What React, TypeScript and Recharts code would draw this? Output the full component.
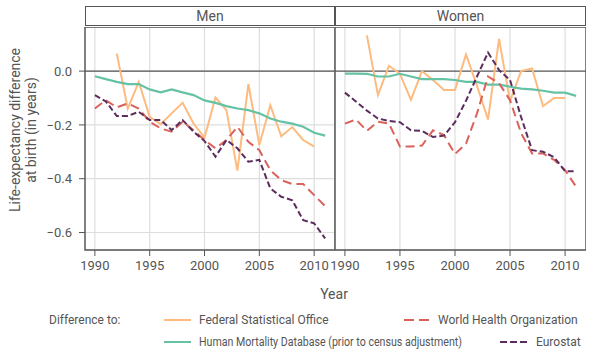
import React from "react";
import {
  LineChart,
  Line,
  XAxis,
  YAxis,
  CartesianGrid,
  ReferenceLine,
  ReferenceArea,
} from "recharts";

const years = [
  1990, 1991, 1992, 1993, 1994, 1995, 1996, 1997, 1998, 1999, 2000,
  2001, 2002, 2003, 2004, 2005, 2006, 2007, 2008, 2009, 2010, 2011,
];

// Men
const menFso = [
  null, null, 0.065, -0.139, -0.04, -0.17, -0.197, -0.157, -0.118, -0.195, -0.247,
  -0.098, -0.145, -0.37, -0.048, -0.275, -0.127, -0.242, -0.208, -0.256, -0.281, null,
];
const menHmd = [
  -0.019, -0.03, -0.04, -0.048, -0.048, -0.068, -0.079, -0.068, -0.079, -0.089, -0.109,
  -0.118, -0.13, -0.139, -0.145, -0.157, -0.176, -0.188, -0.195, -0.207, -0.229, -0.24,
];
const menWho = [
  -0.139, -0.108, -0.135, -0.12, -0.139, -0.188, -0.213, -0.225, -0.188, -0.22, -0.256,
  -0.287, -0.256, -0.207, -0.263, -0.294, -0.368, -0.405, -0.42, -0.42, -0.461, -0.502,
];
const menEurostat = [
  -0.089, -0.113, -0.167, -0.167, -0.151, -0.182, -0.182, -0.219, -0.182, -0.225, -0.26,
  -0.318, -0.256, -0.287, -0.337, -0.33, -0.436, -0.467, -0.48, -0.554, -0.566, -0.622,
];

// Women
const womenFso = [
  null, null, 0.133, -0.089, 0.02, -0.01, -0.107, 0.0, -0.033, -0.07, -0.07,
  0.062, -0.055, -0.18, 0.12, -0.112, 0.0, 0.01, -0.13, -0.1, -0.1, null,
];
const womenHmd = [
  -0.009, -0.009, -0.01, -0.02, -0.02, -0.01, -0.02, -0.03, -0.03, -0.03, -0.033,
  -0.04, -0.04, -0.05, -0.05, -0.058, -0.065, -0.068, -0.073, -0.08, -0.08, -0.092,
];
const womenWho = [
  -0.195, -0.18, -0.222, -0.188, -0.195, -0.28, -0.28, -0.277, -0.22, -0.238, -0.308,
  -0.27, -0.157, -0.02, -0.045, -0.108, -0.23, -0.306, -0.306, -0.33, -0.368, -0.43,
];
const womenEurostat = [
  -0.08, -0.113, -0.147, -0.176, -0.185, -0.19, -0.22, -0.222, -0.245, -0.24, -0.19,
  -0.11, -0.02, 0.069, 0.004, -0.033, -0.17, -0.294, -0.3, -0.32, -0.372, -0.372,
];

const xTicks = [1990, 1995, 2000, 2005, 2010];
const yTicks = [-0.6, -0.4, -0.2, 0];
const xDomain = [1989.1, 2011.9];
const yDomain = [-0.665, 0.164];

const C_FSO = "#fdbb80";
const C_HMD = "#66c2a5";
const C_WHO = "#d9625a";
const C_EUR = "#5b2d5e";
const TXT = "#555555";
const FONT = "Roboto, 'Open Sans', sans-serif";

const buildRows = (fso: any[], hmd: any[], who: any[], eur: any[]) =>
  years.map((year, i) => ({ year, fso: fso[i], hmd: hmd[i], who: who[i], eur: eur[i] }));

const menRows = buildRows(menFso, menHmd, menWho, menEurostat);
const womenRows = buildRows(womenFso, womenHmd, womenWho, womenEurostat);

const fmtY = (v: number) =>
  v === 0 ? "0.0" : (v < 0 ? "\u2212" : "") + Math.abs(v).toFixed(1);

function Panel({
  rows,
  showY,
  width,
  padLeft,
}: {
  rows: any[];
  showY: boolean;
  width: number;
  padLeft: number;
}) {
  return (
    <LineChart
      width={width}
      height={258}
      data={rows}
      margin={{ top: 0, right: 0, bottom: 0, left: padLeft }}
    >
      <CartesianGrid stroke="#dedede" strokeWidth={1.2} />
      <XAxis
        dataKey="year"
        type="number"
        domain={xDomain}
        ticks={xTicks}
        allowDataOverflow
        height={35}
        axisLine={false}
        tickLine={{ stroke: TXT }}
        tickSize={6}
        tickMargin={5}
        tick={{ fill: TXT, fontSize: 13, fontFamily: FONT }}
        interval={0}
      />
      <YAxis
        type="number"
        domain={yDomain}
        ticks={yTicks}
        allowDataOverflow
        width={showY ? 85 : 0}
        axisLine={false}
        tickLine={showY ? { stroke: TXT } : false}
        tick={showY ? { fill: TXT, fontSize: 13, fontFamily: FONT } : false}
        tickSize={6}
        tickMargin={7}
        tickFormatter={fmtY}
        interval={0}
      />
      <ReferenceLine y={0} stroke={TXT} strokeWidth={1.4} />
      <Line dataKey="fso" stroke={C_FSO} strokeWidth={2} dot={false} isAnimationActive={false} />
      <Line dataKey="hmd" stroke={C_HMD} strokeWidth={2.2} dot={false} isAnimationActive={false} />
      <Line
        dataKey="who"
        stroke={C_WHO}
        strokeWidth={2}
        strokeDasharray="9 5"
        dot={false}
        isAnimationActive={false}
      />
      <Line
        dataKey="eur"
        stroke={C_EUR}
        strokeWidth={2}
        strokeDasharray="6 3"
        dot={false}
        isAnimationActive={false}
      />
      <ReferenceArea
        x1={xDomain[0]}
        x2={xDomain[1]}
        y1={yDomain[0]}
        y2={yDomain[1]}
        fill="none"
        fillOpacity={0}
        stroke={TXT}
        strokeWidth={1.4}
      />
    </LineChart>
  );
}

const stripStyle = (left: number, width: number): React.CSSProperties => ({
  position: "absolute",
  left,
  top: 6,
  width: width - 1,
  height: 20,
  border: `1.4px solid ${TXT}`,
  boxSizing: "border-box",
  background: "#fff",
  color: TXT,
  fontFamily: FONT,
  fontSize: 14,
  lineHeight: "18px",
  textAlign: "center",
});

export default function App() {
  return (
    <div
      style={{
        position: "absolute",
        left: 0,
        top: 0,
        width: 590,
        height: 357,
        background: "#fff",
        overflow: "hidden",
      }}
    >
      <div style={{ position: "absolute", left: 0, top: 27 }}>
        <Panel rows={menRows} showY width={335} padLeft={0} />
      </div>
      <div style={{ position: "absolute", left: 320, top: 27 }}>
        <Panel rows={womenRows} showY={false} width={266} padLeft={15} />
      </div>
      <div style={stripStyle(85, 251)}>Men</div>
      <div style={stripStyle(335, 252)}>Women</div>
      <svg
        width={590}
        height={357}
        style={{ position: "absolute", left: 0, top: 0, pointerEvents: "none" }}
        fontFamily={FONT}
      >
        <g transform="translate(15,130) rotate(-90)">
          <text textAnchor="middle" dominantBaseline="central" fontSize={14} fill={TXT}>
            Life-expectancy difference
          </text>
        </g>
        <g transform="translate(31,130) rotate(-90)">
          <text textAnchor="middle" dominantBaseline="central" fontSize={14} fill={TXT}>
            at birth (in years)
          </text>
        </g>
        <text x={334} y={294} textAnchor="middle" dominantBaseline="central" fontSize={14} fill={TXT}>
          Year
        </text>
        <text x={49} y={320} dominantBaseline="central" fontSize={12} fill={TXT}>
          Difference to:
        </text>
        <line x1={164} x2={191} y1={320} y2={320} stroke={C_FSO} strokeWidth={2} />
        <text x={199} y={320} dominantBaseline="central" fontSize={12} fill={TXT}>
          Federal Statistical Office
        </text>
        <line x1={404} x2={430} y1={320} y2={320} stroke={C_WHO} strokeWidth={2} strokeDasharray="10 5" />
        <text x={438} y={320} dominantBaseline="central" fontSize={12} fill={TXT}>
          World Health Organization
        </text>
        <line x1={164} x2={191} y1={342} y2={342} stroke={C_HMD} strokeWidth={2} />
        <text
          x={199}
          y={342}
          dominantBaseline="central"
          fontSize={12}
          fill={TXT}
          textLength={263}
          lengthAdjust="spacingAndGlyphs"
        >
          Human Mortality Database (prior to census adjustment)
        </text>
        <line x1={500} x2={527} y1={342} y2={342} stroke={C_EUR} strokeWidth={2} strokeDasharray="7 3" />
        <text x={536} y={342} dominantBaseline="central" fontSize={12} fill={TXT}>
          Eurostat
        </text>
      </svg>
    </div>
  );
}
